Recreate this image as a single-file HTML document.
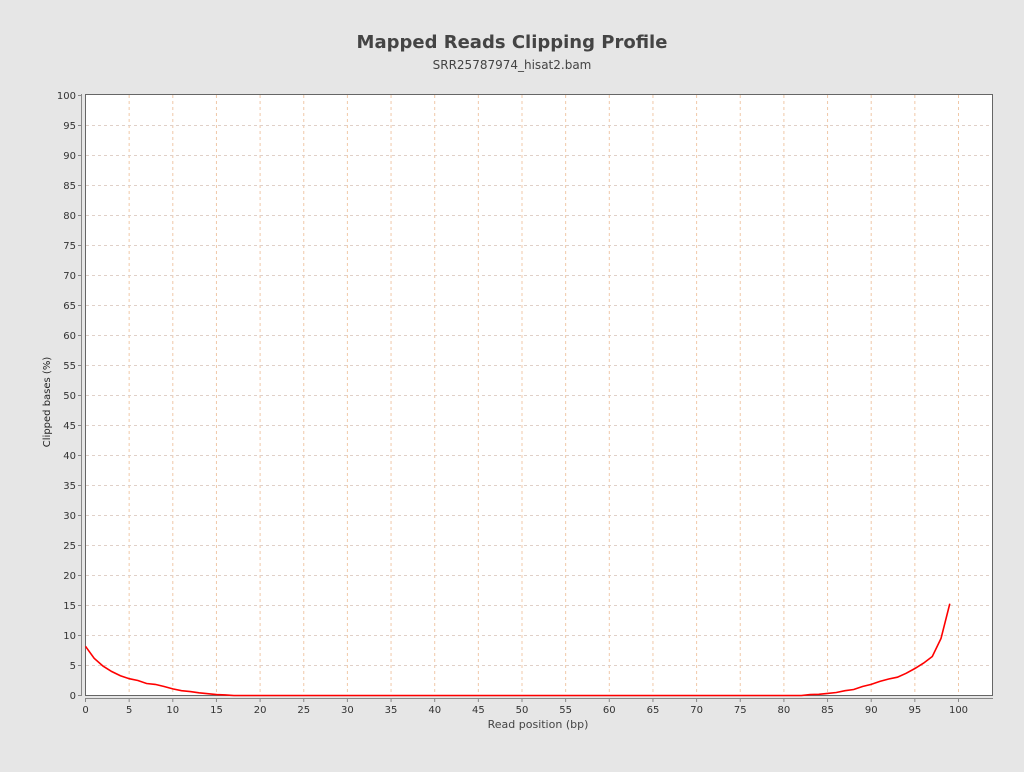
<!DOCTYPE html>
<html><head><meta charset="utf-8"><style>
body{margin:0;background:#e6e6e6;width:1024px;height:768px;overflow:hidden;font-family:"DejaVu Sans","Liberation Sans",sans-serif;}
</style></head><body>
<svg id="s" width="1024" height="768" xmlns="http://www.w3.org/2000/svg">
<rect width="1024" height="768" fill="#e6e6e6"/>
<text x="512" y="48" text-anchor="middle" font-size="18" font-weight="bold" fill="#444">Mapped Reads Clipping Profile</text>
<text x="512" y="69" text-anchor="middle" font-size="12" fill="#444">SRR25787974_hisat2.bam</text>
<rect x="85.5" y="94.5" width="907" height="601" fill="#fff" stroke="#666" stroke-width="1"/>
<g id="g"></g>
<line x1="81.5" y1="94" x2="81.5" y2="696" stroke="#888"/>
<line x1="85" y1="698.5" x2="993" y2="698.5" stroke="#888"/>
<text transform="translate(50,402) rotate(-90)" text-anchor="middle" font-size="10" fill="#222">Clipped bases (%)</text>
<text x="538" y="728" text-anchor="middle" font-size="11" fill="#444">Read position (bp)</text>
</svg>
<script>
var g=document.getElementById('g'),h='';
function X(v){return 85.5+v*8.73;}function Y(p){return 695.5-p*6;}
for(var v=0;v<=100;v+=5){var x=X(v);
if(v>0)h+='<line x1="'+x+'" y1="95" x2="'+x+'" y2="695" stroke="#f0c8a8" stroke-dasharray="3,3"/>';
h+='<line x1="'+x+'" y1="699" x2="'+x+'" y2="702" stroke="#888"/>';
h+='<text x="'+x+'" y="713" text-anchor="middle" font-size="10" fill="#333">'+v+'</text>';}
for(var p=0;p<=100;p+=5){var y=Y(p);
if(p>0&&p<100)h+='<line x1="86" y1="'+y+'" x2="992" y2="'+y+'" stroke="#e0d0c8" stroke-dasharray="3,3"/>';
h+='<line x1="78" y1="'+y+'" x2="81" y2="'+y+'" stroke="#888"/>';
h+='<text x="76" y="'+(y+3.5)+'" text-anchor="end" font-size="10" fill="#333">'+p+'</text>';}
var d={0:8.2,1:6.2,2:4.9,3:4.0,4:3.3,5:2.8,6:2.5,7:2.0,8:1.85,9:1.5,10:1.1,11:0.8,12:0.65,13:0.45,14:0.3,15:0.15,16:0.1,83:0.15,84:0.2,85:0.35,86:0.5,87:0.8,88:1.0,89:1.5,90:1.85,91:2.35,92:2.75,93:3.05,94:3.7,95:4.5,96:5.4,97:6.5,98:9.5,99:15.3};
var pts=[];for(var i=0;i<=99;i++){pts.push(X(i).toFixed(1)+','+Y(d[i]||0).toFixed(1));}
h+='<polyline points="'+pts.join(' ')+'" fill="none" stroke="#f00" stroke-width="1.6"/>';
g.innerHTML=h;
</script>
</body></html>
